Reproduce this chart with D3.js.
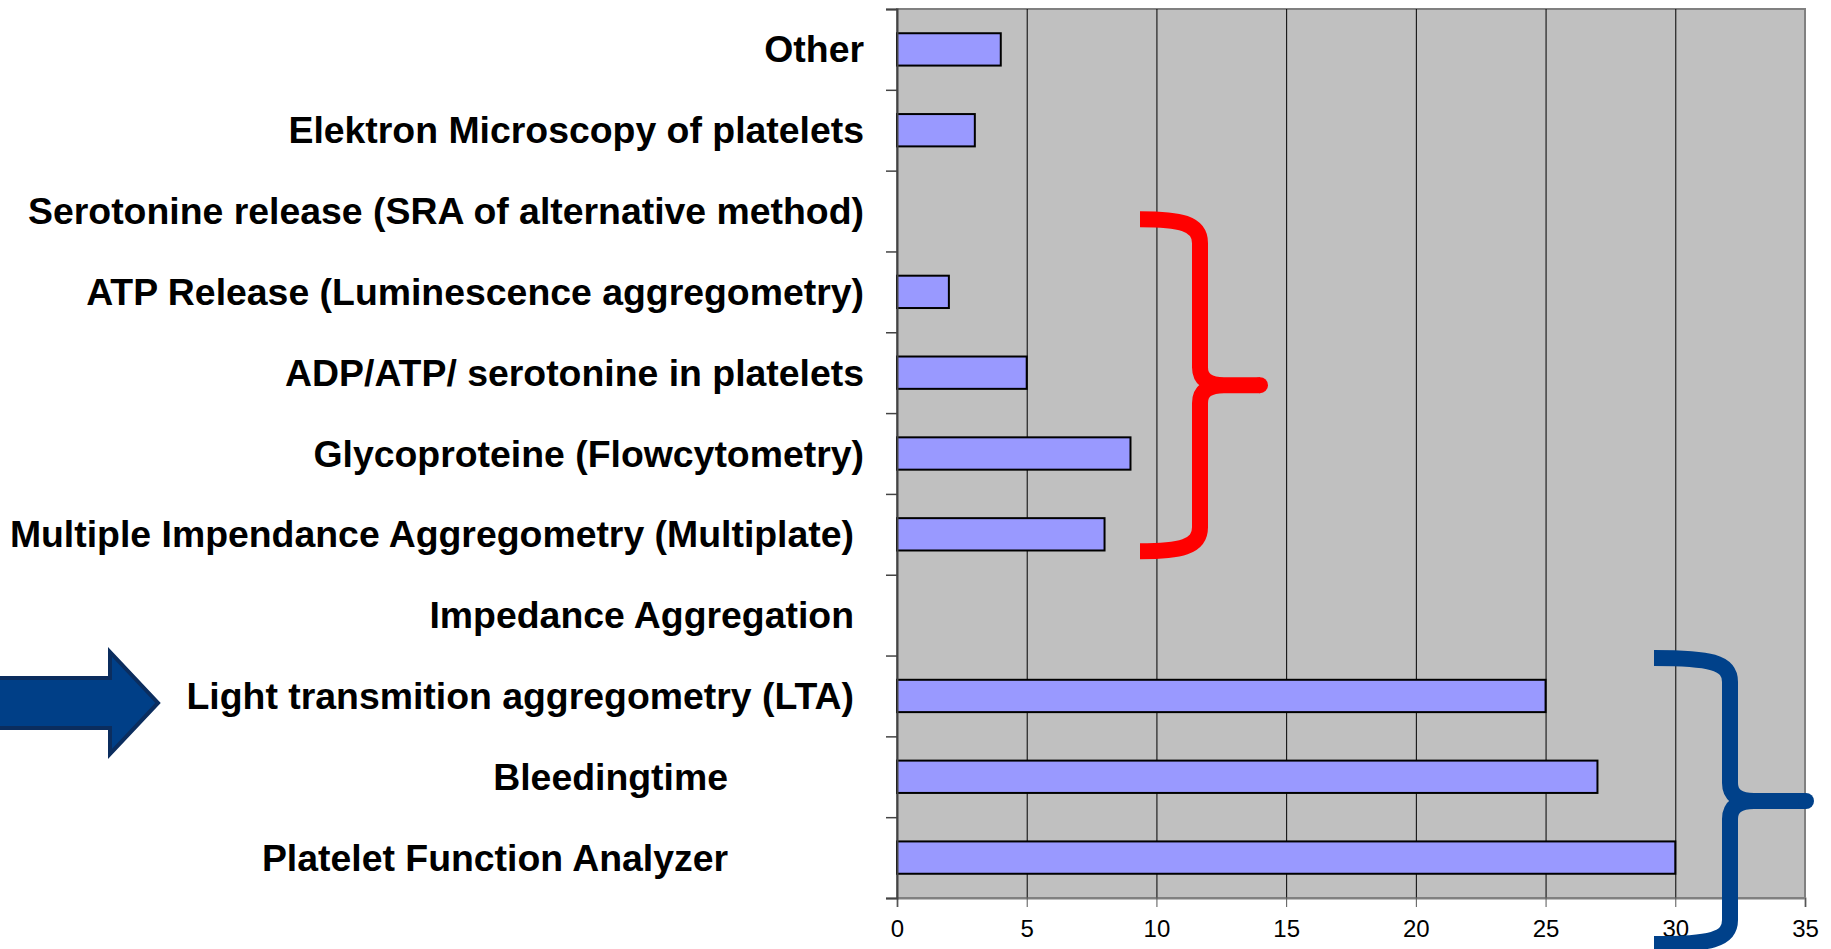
<!DOCTYPE html>
<html>
<head>
<meta charset="utf-8">
<script src="https://cdn.jsdelivr.net/npm/d3@7"></script>
<style>
  body { margin: 0; background: #fff; }
  svg { display: block; }
</style>
</head>
<body>
<div id="chart"></div>
<script>
// Categories top to bottom and their counts
const methods = [
    'Other',
    'Elektron Microscopy of platelets',
    'Serotonine release (SRA of alternative method)',
    'ATP Release (Luminescence aggregometry)',
    'ADP/ATP/ serotonine in platelets',
    'Glycoproteine (Flowcytometry)',
    'Multiple Impendance Aggregometry (Multiplate)',
    'Impedance Aggregation',
    'Light transmition aggregometry (LTA)',
    'Bleedingtime',
    'Platelet Function Analyzer'
];
const counts = [4, 3, 0, 2, 5, 9, 8, 0, 25, 27, 30];
const xTicks = [0, 5, 10, 15, 20, 25, 30, 35];

// layout
const W = 1831, H = 949;
const plot = {left: 897, right: 1805, top: 9, bottom: 898};
// how far the label's right edge sits from the axis
const labelGap = {
    'Multiple Impendance Aggregometry (Multiplate)': 43,
    'Impedance Aggregation': 43,
    'Light transmition aggregometry (LTA)': 43,
    'Bleedingtime': 169,
    'Platelet Function Analyzer': 169
};

const svg = d3.select('#chart').append('svg')
    .attr('width', W)
    .attr('height', H);

const x = d3.scaleLinear()
    .domain([0, 35])
    .range([plot.left, plot.right]);

const y = d3.scaleBand()
    .domain(methods)
    .range([plot.top, plot.bottom])
    .paddingInner(0.6)
    .paddingOuter(0.3);

// slot scale: row boundaries (used for y ticks and overlay placement)
const slot = d3.scaleLinear()
    .domain([0, methods.length])
    .range([plot.top, plot.bottom]);

// plot background
svg.append('rect')
    .attr('x', plot.left)
    .attr('y', plot.top)
    .attr('width', plot.right - plot.left)
    .attr('height', plot.bottom - plot.top)
    .attr('fill', '#c0c0c0')
    .attr('stroke', '#808080')
    .attr('stroke-width', 2);

// vertical grid lines
svg.append('g')
    .attr('transform', 'translate(0,' + plot.bottom + ')')
    .call(d3.axisBottom(x).tickValues(xTicks.slice(1, -1)).tickSize(-(plot.bottom - plot.top)).tickFormat(''))
    .call(g => g.select('.domain').remove())
    .selectAll('line')
    .attr('stroke', '#000')
    .attr('stroke-width', 1);

// bars
svg.selectAll('.bar')
    .data(methods.map((m, i) => ({name: m, value: counts[i]})).filter(d => d.value > 0))
    .join('rect')
    .attr('class', 'bar')
    .attr('x', x(0))
    .attr('y', d => y(d.name))
    .attr('width', d => x(d.value) - x(0))
    .attr('height', y.bandwidth())
    .attr('fill', '#9999ff')
    .attr('stroke', '#000')
    .attr('stroke-width', 2);

// x axis
const xAxis = svg.append('g')
    .attr('transform', 'translate(0,' + plot.bottom + ')')
    .call(d3.axisBottom(x).tickValues(xTicks).tickSize(9).tickPadding(13));
xAxis.select('.domain').attr('stroke', '#808080').attr('stroke-width', 2);
xAxis.selectAll('line').attr('stroke', '#555');
xAxis.selectAll('text')
    .attr('font-family', 'Liberation Sans, Arial, sans-serif')
    .attr('font-size', 24)
    .attr('fill', '#000');

// y axis: ticks between categories
const yAxis = svg.append('g')
    .attr('transform', 'translate(' + plot.left + ',0)')
    .call(d3.axisLeft(slot).ticks(methods.length).tickSize(11).tickFormat(''));
yAxis.select('.domain').attr('stroke', '#444').attr('stroke-width', 2);
yAxis.selectAll('line').attr('stroke', '#444').attr('stroke-width', 1.5);

// category labels
svg.append('g')
    .selectAll('text')
    .data(methods)
    .join('text')
    .attr('x', d => plot.left - (labelGap[d] || 33))
    .attr('y', d => y(d) + y.bandwidth() / 2)
    .attr('dy', '0.35em')
    .attr('text-anchor', 'end')
    .attr('font-family', 'Liberation Sans, Arial, sans-serif')
    .attr('font-weight', 'bold')
    .attr('font-size', 37.4)
    .attr('fill', '#000')
    .text(d => d);

// curly brace path
function bracePath(x0, xs, xt, y0, y1) {
    const ym = (y0 + y1) / 2;
    return 'M' + x0 + ',' + y0 +
        'C' + (xs - 20) + ',' + y0 + ' ' + xs + ',' + (y0 + 4) + ' ' + xs + ',' + (y0 + 24) +
        'L' + xs + ',' + (ym - 18) +
        'Q' + xs + ',' + ym + ' ' + (xs + 24) + ',' + ym +
        'L' + xt + ',' + ym +
        'M' + (xs + 24) + ',' + ym +
        'Q' + xs + ',' + ym + ' ' + xs + ',' + (ym + 18) +
        'L' + xs + ',' + (y1 - 24) +
        'C' + xs + ',' + (y1 - 4) + ' ' + (xs - 20) + ',' + y1 + ' ' + x0 + ',' + y1;
}

function drawBrace(s0, s1, x0, xs, xt, color) {
    const y0 = slot(s0), y1 = slot(s1);
    svg.append('path')
        .attr('d', bracePath(x0, xs, xt, y0, y1))
        .attr('fill', 'none')
        .attr('stroke', color)
        .attr('stroke-width', 16)
        .attr('stroke-linejoin', 'round');
    svg.append('circle')
        .attr('cx', xt)
        .attr('cy', (y0 + y1) / 2)
        .attr('r', 8)
        .attr('fill', color);
}

// red brace: the ATP..Multiplate rows; blue brace: LTA..PFA rows
drawBrace(2.6, 6.71, 1140, 1200, 1260, '#ff0000');
drawBrace(8.03, 11.57, 1654, 1730, 1806, '#00418a');

// arrow pointing at LTA
const ay = y('Light transmition aggregometry (LTA)') + y.bandwidth() / 2 + 7;
svg.append('path')
    .attr('d', 'M-5,' + (ay - 25) + 'L110,' + (ay - 25) + 'L110,' + (ay - 51) +
        'L158,' + ay + 'L110,' + (ay + 51) + 'L110,' + (ay + 25) + 'L-5,' + (ay + 25) + 'Z')
    .attr('fill', '#003f87')
    .attr('stroke', '#0b2d5e')
    .attr('stroke-width', 4);
</script>
</body>
</html>
